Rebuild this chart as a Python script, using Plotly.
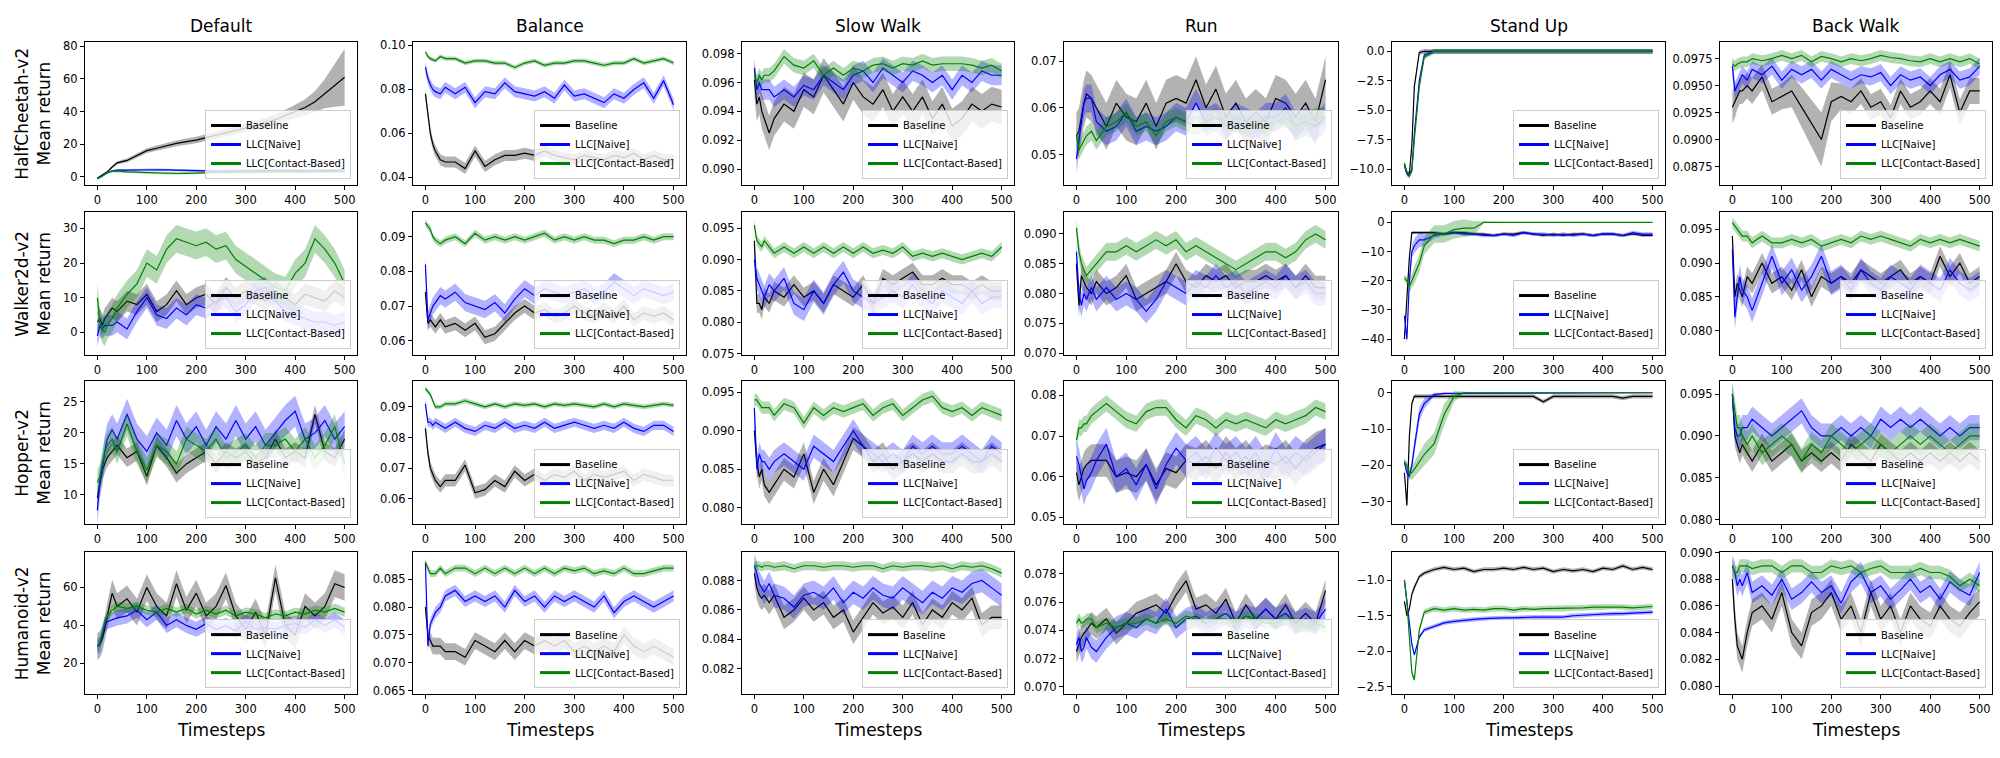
import plotly.graph_objects as go

# ---------------- data ----------------
X = [0, 5, 10, 15, 20, 30, 40, 60, 80, 100, 120, 140, 160, 180, 200, 220, 240, 260, 280, 300,
     320, 340, 360, 380, 400, 420, 440, 460, 480, 500]

COLUMN_TITLES = ["Default", "Balance", "Slow Walk", "Run", "Stand Up", "Back Walk"]
ROW_LABELS = ["HalfCheetah-v2", "Walker2d-v2", "Hopper-v2", "Humanoid-v2"]
SERIES_NAMES = ["Baseline", "LLC[Naive]", "LLC[Contact-Based]"]
X_TICKS = [0, 100, 200, 300, 400, 500]
X_LABEL = "Timesteps"
Y_LABEL = "Mean return"

# HalfCheetah-v2
HC_DEF_B = [-1, 0, 1, 2, 3, 6, 8.5, 10, 13, 16, 17.5, 19, 20.5, 21.5, 22.5, 24, 25.5, 27, 28.5, 30, 31.5, 33, 35, 37.5, 40, 42.5, 46, 51, 56, 61]
HC_DEF_B_SD = [0.5, 0.5, 0.5, 0.5, 0.6, 0.8, 1, 1.2, 1.4, 1.5, 1.6, 1.7, 1.8, 1.9, 2, 2.1, 2.2, 2.3, 2.4, 2.5, 2.7, 2.9, 3.2, 3.6, 4.2, 5, 6.5, 9, 13, 17.5]
HC_DEF_N = [-1, -0.5, 0.5, 1.5, 2.5, 3.5, 4, 4, 4.2, 4.5, 4.3, 4.2, 4, 3.8, 3.6, 3.6, 3.5, 3.6, 3.7, 3.6, 3.7, 3.8, 3.7, 3.8, 3.9, 3.8, 3.9, 4, 3.9, 4]
HC_DEF_N_SD = 0.7
HC_DEF_C = [-1, -0.5, 0.5, 1.5, 2.5, 3.5, 3.5, 3, 2.8, 2.5, 2.3, 2, 2, 2.1, 2.4, 2.5, 2.6, 2.7, 2.8, 2.8, 2.9, 3, 2.9, 3, 3, 3.1, 3, 3.1, 3, 3.1]
HC_DEF_C_SD = 0.7

HC_BAL_B = [0.078, 0.068, 0.060, 0.055, 0.052, 0.048, 0.047, 0.047, 0.044, 0.052, 0.045, 0.048, 0.050, 0.050, 0.051, 0.050, 0.052, 0.050, 0.049, 0.048, 0.050, 0.049, 0.048, 0.050, 0.049, 0.051, 0.048, 0.050, 0.048, 0.048]
HC_BAL_B_SD = 0.0025
HC_BAL_N = [0.090, 0.085, 0.082, 0.080, 0.079, 0.078, 0.081, 0.078, 0.081, 0.074, 0.079, 0.078, 0.083, 0.079, 0.078, 0.077, 0.079, 0.076, 0.082, 0.077, 0.078, 0.076, 0.074, 0.078, 0.076, 0.080, 0.083, 0.076, 0.084, 0.073]
HC_BAL_N_SD = 0.0025
HC_BAL_C = [0.097, 0.095, 0.094, 0.0935, 0.093, 0.095, 0.094, 0.094, 0.092, 0.093, 0.093, 0.092, 0.092, 0.090, 0.092, 0.093, 0.091, 0.092, 0.092, 0.093, 0.093, 0.092, 0.091, 0.092, 0.092, 0.094, 0.092, 0.093, 0.094, 0.092]
HC_BAL_C_SD = 0.001

HC_SLW_B = [0.0962, 0.0945, 0.0950, 0.0940, 0.0935, 0.0925, 0.0935, 0.0945, 0.0940, 0.0955, 0.0950, 0.0965, 0.0955, 0.0945, 0.0960, 0.0950, 0.0945, 0.0955, 0.0940, 0.0950, 0.0940, 0.0950, 0.0935, 0.0945, 0.0930, 0.0935, 0.0945, 0.0940, 0.0945, 0.0943]
HC_SLW_B_SD = 0.0012
HC_SLW_N = [0.0970, 0.0955, 0.0960, 0.0955, 0.0955, 0.0955, 0.0950, 0.0955, 0.0950, 0.0958, 0.0955, 0.0965, 0.0960, 0.0955, 0.0965, 0.0968, 0.0960, 0.0970, 0.0965, 0.0960, 0.0968, 0.0965, 0.0960, 0.0965, 0.0955, 0.0965, 0.0960, 0.0968, 0.0965, 0.0965]
HC_SLW_N_SD = 0.0007
HC_SLW_C = [0.0965, 0.0960, 0.0965, 0.0962, 0.0965, 0.0965, 0.0968, 0.0978, 0.0972, 0.0970, 0.0975, 0.0965, 0.0970, 0.0965, 0.0970, 0.0968, 0.0972, 0.0973, 0.0970, 0.0973, 0.0972, 0.0975, 0.0972, 0.0973, 0.0973, 0.0973, 0.0972, 0.0970, 0.0972, 0.0968]
HC_SLW_C_SD = 0.0005

HC_RUN_B = [0.054, 0.055, 0.058, 0.061, 0.063, 0.062, 0.060, 0.056, 0.061, 0.058, 0.057, 0.061, 0.056, 0.061, 0.062, 0.061, 0.066, 0.060, 0.064, 0.058, 0.061, 0.057, 0.059, 0.057, 0.062, 0.061, 0.058, 0.061, 0.057, 0.066]
HC_RUN_B_SD = 0.005
HC_RUN_N = [0.049, 0.053, 0.058, 0.061, 0.062, 0.062, 0.057, 0.055, 0.056, 0.059, 0.055, 0.056, 0.055, 0.056, 0.058, 0.057, 0.061, 0.057, 0.058, 0.056, 0.058, 0.057, 0.056, 0.058, 0.058, 0.060, 0.056, 0.057, 0.056, 0.058]
HC_RUN_N_SD = 0.003
HC_RUN_C = [0.054, 0.051, 0.052, 0.053, 0.054, 0.055, 0.053, 0.056, 0.057, 0.059, 0.056, 0.057, 0.054, 0.057, 0.058, 0.057, 0.056, 0.057, 0.058, 0.057, 0.057, 0.056, 0.057, 0.056, 0.057, 0.058, 0.056, 0.057, 0.058, 0.058]
HC_RUN_C_SD = 0.002

HC_STU_B = [-9.6, -10.3, -10.4, -8.0, -3.0, -0.1, 0.0, 0.0, 0.0, 0.0, 0.0, 0.0, 0.0, 0.0, 0.0, 0.0, 0.0, 0.0, 0.0, 0.0, 0.0, 0.0, 0.0, 0.0, 0.0, 0.0, 0.0, 0.0, 0.0, 0.0]
HC_STU_B_SD = 0.2
HC_STU_N = [-9.7, -10.4, -10.6, -10.0, -7.0, -2.5, -0.3, 0.0, 0.0, 0.0, 0.0, 0.0, 0.0, 0.0, 0.0, 0.0, 0.0, 0.0, 0.0, 0.0, 0.0, 0.0, 0.0, 0.0, 0.0, 0.0, 0.0, 0.0, 0.0, 0.0]
HC_STU_N_SD = 0.2
HC_STU_C = [-9.5, -10.3, -10.5, -10.2, -7.5, -3.0, -0.5, 0.0, 0.0, 0.0, 0.0, 0.0, 0.0, 0.0, 0.0, 0.0, 0.0, 0.0, 0.0, 0.0, 0.0, 0.0, 0.0, 0.0, 0.0, 0.0, 0.0, 0.0, 0.0, 0.0]
HC_STU_C_SD = 0.2

HC_BKW_B = [0.0930, 0.0935, 0.0940, 0.0945, 0.0945, 0.0950, 0.0945, 0.0958, 0.0935, 0.0940, 0.0945, 0.0930, 0.0915, 0.0900, 0.0935, 0.0940, 0.0935, 0.0945, 0.0930, 0.0935, 0.0920, 0.0945, 0.0930, 0.0935, 0.0945, 0.0935, 0.0960, 0.0925, 0.0945, 0.0945]
HC_BKW_B_SD = [0.0015, 0.0015, 0.0012, 0.0012, 0.0012, 0.0012, 0.0012, 0.0012, 0.0012, 0.0012, 0.0015, 0.0018, 0.0022, 0.0025, 0.0018, 0.0012, 0.0012, 0.0012, 0.0012, 0.0012, 0.0012, 0.0012, 0.0012, 0.0012, 0.0012, 0.0012, 0.0012, 0.0012, 0.0012, 0.0012]
HC_BKW_N = [0.0968, 0.0945, 0.0950, 0.0955, 0.0960, 0.0955, 0.0965, 0.0960, 0.0968, 0.0955, 0.0965, 0.0960, 0.0965, 0.0955, 0.0965, 0.0960, 0.0955, 0.0960, 0.0958, 0.0962, 0.0950, 0.0960, 0.0955, 0.0958, 0.0950, 0.0960, 0.0965, 0.0955, 0.0958, 0.0968]
HC_BKW_N_SD = 0.0008
HC_BKW_C = [0.0970, 0.0968, 0.0970, 0.0971, 0.0972, 0.0972, 0.0975, 0.0973, 0.0975, 0.0978, 0.0975, 0.0978, 0.0972, 0.0977, 0.0975, 0.0972, 0.0975, 0.0973, 0.0975, 0.0978, 0.0976, 0.0975, 0.0973, 0.0972, 0.0975, 0.0972, 0.0975, 0.0972, 0.0975, 0.0970]
HC_BKW_C_SD = 0.0005

# Walker2d-v2
WK_DEF_B = [3, 4, 2, 4, 5, 7, 6, 9, 8, 11, 6, 8, 12, 8, 10, 11, 8, 13, 10, 12, 11, 9, 12, 10, 8, 11, 10, 9, 12, 10]
WK_DEF_B_SD = 3
WK_DEF_N = [-1, 2, 1, 2, 2, 2, 3, 1, 6, 10, 5, 4, 7, 5, 8, 7, 9, 10, 6, 8, 12, 13, 9, 6, 5, 4, 3, 3, 2, 3]
WK_DEF_N_SD = 3
WK_DEF_C = [10, 3, 1, 0, 2, 4, 7, 11, 14, 20, 18, 24, 27, 26, 25, 26, 24, 25, 21, 19, 17, 15, 13, 12, 17, 20, 27, 24, 20, 14]
WK_DEF_C_SD = 4

WK_BAL_B = [0.074, 0.065, 0.066, 0.065, 0.064, 0.066, 0.064, 0.065, 0.063, 0.065, 0.061, 0.062, 0.065, 0.068, 0.070, 0.068, 0.069, 0.067, 0.068, 0.070, 0.068, 0.067, 0.069, 0.067, 0.070, 0.066, 0.068, 0.067, 0.068, 0.066]
WK_BAL_B_SD = 0.002
WK_BAL_N = [0.082, 0.066, 0.068, 0.070, 0.071, 0.073, 0.072, 0.074, 0.071, 0.070, 0.069, 0.071, 0.068, 0.072, 0.075, 0.073, 0.075, 0.074, 0.073, 0.074, 0.075, 0.073, 0.074, 0.077, 0.075, 0.073, 0.075, 0.074, 0.073, 0.074]
WK_BAL_N_SD = 0.0025
WK_BAL_C = [0.094, 0.093, 0.092, 0.090, 0.089, 0.088, 0.089, 0.090, 0.088, 0.091, 0.089, 0.090, 0.089, 0.090, 0.089, 0.090, 0.091, 0.089, 0.090, 0.089, 0.090, 0.089, 0.089, 0.088, 0.089, 0.089, 0.090, 0.089, 0.090, 0.090]
WK_BAL_C_SD = 0.001

WK_SLW_B = [0.093, 0.083, 0.083, 0.082, 0.084, 0.083, 0.085, 0.084, 0.086, 0.084, 0.085, 0.083, 0.086, 0.085, 0.084, 0.086, 0.083, 0.087, 0.086, 0.087, 0.088, 0.086, 0.086, 0.087, 0.086, 0.086, 0.085, 0.086, 0.085, 0.085]
WK_SLW_B_SD = 0.0015
WK_SLW_N = [0.090, 0.087, 0.086, 0.085, 0.084, 0.086, 0.085, 0.087, 0.083, 0.082, 0.085, 0.083, 0.086, 0.088, 0.085, 0.084, 0.083, 0.084, 0.085, 0.084, 0.086, 0.084, 0.083, 0.085, 0.084, 0.083, 0.085, 0.083, 0.084, 0.084]
WK_SLW_N_SD = 0.0018
WK_SLW_C = [0.0955, 0.093, 0.0925, 0.092, 0.093, 0.092, 0.091, 0.092, 0.091, 0.092, 0.091, 0.092, 0.091, 0.092, 0.091, 0.092, 0.091, 0.0915, 0.091, 0.092, 0.0905, 0.091, 0.0905, 0.091, 0.0905, 0.090, 0.0905, 0.091, 0.0905, 0.092]
WK_SLW_C_SD = 0.0008

WK_RUN_B = [0.085, 0.078, 0.083, 0.082, 0.081, 0.080, 0.082, 0.080, 0.081, 0.083, 0.079, 0.080, 0.081, 0.082, 0.085, 0.082, 0.081, 0.083, 0.082, 0.083, 0.081, 0.082, 0.082, 0.083, 0.082, 0.083, 0.081, 0.083, 0.081, 0.081]
WK_RUN_B_SD = 0.002
WK_RUN_N = [0.087, 0.080, 0.078, 0.080, 0.079, 0.081, 0.079, 0.081, 0.079, 0.080, 0.079, 0.077, 0.079, 0.082, 0.081, 0.080, 0.082, 0.081, 0.083, 0.081, 0.082, 0.080, 0.081, 0.082, 0.081, 0.083, 0.081, 0.082, 0.080, 0.080]
WK_RUN_N_SD = 0.002
WK_RUN_C = [0.091, 0.087, 0.085, 0.084, 0.083, 0.084, 0.085, 0.087, 0.087, 0.088, 0.087, 0.088, 0.089, 0.088, 0.089, 0.087, 0.088, 0.087, 0.086, 0.085, 0.084, 0.085, 0.086, 0.087, 0.087, 0.086, 0.087, 0.089, 0.090, 0.089]
WK_RUN_C_SD = 0.0015

WK_STU_B = [-40, -25, -12, -3.5, -3.5, -3.5, -3.5, -3.5, -4, -3.5, -3.5, -4, -4, -4.5, -4, -4, -3.5, -4, -4.5, -4, -4.5, -4, -4, -4.5, -4, -4, -4.5, -4, -4.5, -4.5]
WK_STU_B_SD = 0.5
WK_STU_N = [-32, -40, -20, -10, -8, -6, -6, -4.5, -4, -3.5, -4, -4, -4.5, -4.5, -4, -4.5, -3.5, -4, -4, -4.5, -4, -4.5, -4, -4.5, -4, -4, -4.5, -3.5, -4, -4]
WK_STU_N_SD = [1.0, 1.5, 2.0, 2.0, 2.5, 2.5, 2.0, 1.0, 0.6, 0.6, 0.6, 0.6, 0.6, 0.6, 0.6, 0.6, 0.6, 0.6, 0.6, 0.6, 0.6, 0.6, 0.6, 0.6, 0.6, 0.6, 0.6, 0.6, 0.6, 0.6]
WK_STU_C = [-19, -20, -22, -20, -18, -14, -8, -4, -4, -2.5, -2, -2, 0, 0, 0, 0, 0, 0, 0, 0, 0, 0, 0, 0, 0, 0, 0, 0, 0, 0]
WK_STU_C_SD = [1.0, 1.5, 2.0, 2.5, 3.0, 3.0, 3.0, 3.0, 3.0, 3.0, 3.0, 2.5, 0.3, 0.1, 0.1, 0.1, 0.1, 0.1, 0.1, 0.1, 0.1, 0.1, 0.1, 0.1, 0.1, 0.1, 0.1, 0.1, 0.1, 0.1]

WK_BKW_B = [0.094, 0.085, 0.087, 0.086, 0.085, 0.088, 0.087, 0.090, 0.087, 0.088, 0.086, 0.089, 0.085, 0.088, 0.087, 0.088, 0.087, 0.089, 0.088, 0.087, 0.088, 0.089, 0.087, 0.088, 0.087, 0.091, 0.088, 0.090, 0.087, 0.088]
WK_BKW_B_SD = 0.0015
WK_BKW_N = [0.092, 0.082, 0.085, 0.088, 0.086, 0.085, 0.083, 0.087, 0.091, 0.087, 0.089, 0.086, 0.088, 0.091, 0.087, 0.088, 0.086, 0.089, 0.087, 0.086, 0.088, 0.087, 0.086, 0.088, 0.087, 0.086, 0.089, 0.087, 0.086, 0.087]
WK_BKW_N_SD = 0.0018
WK_BKW_C = [0.096, 0.0955, 0.095, 0.0945, 0.094, 0.094, 0.093, 0.094, 0.093, 0.093, 0.0935, 0.093, 0.0935, 0.0925, 0.093, 0.0935, 0.093, 0.094, 0.0935, 0.094, 0.0935, 0.093, 0.0925, 0.0935, 0.093, 0.0935, 0.093, 0.0935, 0.093, 0.0925]
WK_BKW_C_SD = 0.0008

# Hopper-v2
HP_DEF_B = [9.5, 12, 14, 15, 16, 17, 18, 16, 17, 13, 18, 16, 13.5, 15, 16, 17, 15, 17, 16, 17, 15, 16, 19, 16, 17, 16, 23, 17, 16, 19]
HP_DEF_B_SD = 1.5
HP_DEF_N = [7.5, 12, 14, 17, 19, 20.5, 19, 23, 19, 17, 20, 18, 22, 19, 21, 18, 21, 19, 22, 19, 21, 18, 20, 22, 23.5, 19, 20, 22, 19, 21]
HP_DEF_N_SD = 2.5
HP_DEF_C = [12, 13, 15, 17, 18, 19, 17, 21.5, 17, 14, 18, 17, 15, 19, 18, 17, 19, 16, 17, 18, 16, 18, 18, 19, 17, 19, 16, 18, 21, 15]
HP_DEF_C_SD = 2

HP_BAL_B = [0.083, 0.075, 0.070, 0.068, 0.066, 0.064, 0.066, 0.066, 0.071, 0.062, 0.063, 0.066, 0.064, 0.069, 0.066, 0.068, 0.066, 0.068, 0.067, 0.069, 0.066, 0.068, 0.067, 0.068, 0.069, 0.066, 0.068, 0.067, 0.066, 0.066]
HP_BAL_B_SD = 0.002
HP_BAL_N = [0.091, 0.085, 0.085, 0.084, 0.085, 0.084, 0.083, 0.085, 0.083, 0.082, 0.084, 0.083, 0.085, 0.083, 0.084, 0.083, 0.085, 0.083, 0.084, 0.085, 0.084, 0.083, 0.084, 0.083, 0.085, 0.083, 0.082, 0.084, 0.084, 0.082]
HP_BAL_N_SD = 0.0015
HP_BAL_C = [0.096, 0.095, 0.094, 0.092, 0.090, 0.090, 0.091, 0.091, 0.092, 0.091, 0.090, 0.091, 0.090, 0.091, 0.0905, 0.091, 0.090, 0.091, 0.0905, 0.091, 0.0905, 0.090, 0.091, 0.090, 0.091, 0.0905, 0.090, 0.0905, 0.091, 0.0905]
HP_BAL_C_SD = 0.0008

HP_SLW_B = [0.090, 0.086, 0.084, 0.085, 0.083, 0.082, 0.083, 0.085, 0.084, 0.087, 0.082, 0.085, 0.083, 0.086, 0.089, 0.088, 0.086, 0.087, 0.085, 0.086, 0.087, 0.086, 0.087, 0.086, 0.086, 0.087, 0.086, 0.086, 0.087, 0.086]
HP_SLW_B_SD = 0.0015
HP_SLW_N = [0.093, 0.085, 0.087, 0.086, 0.086, 0.085, 0.086, 0.087, 0.086, 0.085, 0.088, 0.087, 0.086, 0.088, 0.090, 0.088, 0.087, 0.086, 0.087, 0.086, 0.088, 0.087, 0.088, 0.087, 0.087, 0.088, 0.087, 0.086, 0.088, 0.087]
HP_SLW_N_SD = 0.0015
HP_SLW_C = [0.094, 0.094, 0.0935, 0.093, 0.093, 0.093, 0.092, 0.0935, 0.093, 0.091, 0.093, 0.092, 0.093, 0.0925, 0.093, 0.0935, 0.092, 0.093, 0.0935, 0.092, 0.093, 0.094, 0.0945, 0.093, 0.0925, 0.093, 0.092, 0.093, 0.0925, 0.092]
HP_SLW_C_SD = 0.0008

HP_RUN_B = [0.061, 0.058, 0.060, 0.062, 0.063, 0.064, 0.064, 0.064, 0.060, 0.061, 0.060, 0.063, 0.058, 0.062, 0.061, 0.064, 0.063, 0.065, 0.062, 0.066, 0.063, 0.065, 0.062, 0.064, 0.063, 0.065, 0.062, 0.065, 0.067, 0.068]
HP_RUN_B_SD = 0.004
HP_RUN_N = [0.065, 0.063, 0.060, 0.057, 0.059, 0.061, 0.064, 0.068, 0.060, 0.062, 0.058, 0.063, 0.057, 0.063, 0.067, 0.064, 0.066, 0.063, 0.067, 0.064, 0.066, 0.063, 0.066, 0.062, 0.067, 0.063, 0.066, 0.064, 0.066, 0.068]
HP_RUN_N_SD = 0.004
HP_RUN_C = [0.069, 0.072, 0.072, 0.073, 0.073, 0.075, 0.076, 0.078, 0.076, 0.074, 0.073, 0.076, 0.077, 0.077, 0.074, 0.072, 0.075, 0.074, 0.072, 0.074, 0.073, 0.074, 0.073, 0.072, 0.074, 0.073, 0.074, 0.075, 0.077, 0.076]
HP_RUN_C_SD = 0.002

HP_STU_B = [-22, -31, -12, -3, -1, -1, -1, -1, -1, -1, -1, -1, -1, -1, -1, -1, -1, -1, -2.5, -1, -1, -1, -1, -1, -1, -1, -1.5, -1, -1, -1]
HP_STU_B_SD = 0.6
HP_STU_N = [-19, -22, -23, -20, -15, -6, -3, -0.5, -0.2, -0.2, 0, 0, 0, 0, 0, 0, 0, 0, 0, 0, 0, 0, 0, 0, 0, 0, 0, 0, 0, 0]
HP_STU_N_SD = [1, 1, 1, 1.5, 2, 2, 1.5, 0.5, 0.2, 0.1, 0.1, 0.1, 0.1, 0.1, 0.1, 0.1, 0.1, 0.1, 0.1, 0.1, 0.1, 0.1, 0.1, 0.1, 0.1, 0.1, 0.1, 0.1, 0.1, 0.1]
HP_STU_C = [-19, -20, -22, -22, -21, -19, -17, -14, -6, -1, 0, 0, 0, 0, 0, 0, 0, 0, 0, 0, 0, 0, 0, 0, 0, 0, 0, 0, 0, 0]
HP_STU_C_SD = [1, 1, 1.5, 2, 2, 2.5, 3, 3, 3, 1.5, 0.3, 0.1, 0.1, 0.1, 0.1, 0.1, 0.1, 0.1, 0.1, 0.1, 0.1, 0.1, 0.1, 0.1, 0.1, 0.1, 0.1, 0.1, 0.1, 0.1]

HP_BKW_B = [0.095, 0.090, 0.089, 0.088, 0.089, 0.088, 0.087, 0.089, 0.087, 0.088, 0.089, 0.087, 0.088, 0.087, 0.088, 0.087, 0.089, 0.088, 0.087, 0.089, 0.088, 0.087, 0.088, 0.087, 0.088, 0.087, 0.088, 0.087, 0.088, 0.087]
HP_BKW_B_SD = 0.0013
HP_BKW_N = [0.095, 0.091, 0.090, 0.090, 0.091, 0.091, 0.092, 0.091, 0.090, 0.091, 0.092, 0.093, 0.091, 0.090, 0.090, 0.091, 0.090, 0.091, 0.090, 0.092, 0.091, 0.092, 0.091, 0.092, 0.091, 0.090, 0.091, 0.090, 0.091, 0.091]
HP_BKW_N_SD = 0.0015
HP_BKW_C = [0.095, 0.093, 0.091, 0.091, 0.090, 0.089, 0.090, 0.088, 0.089, 0.090, 0.089, 0.087, 0.089, 0.088, 0.090, 0.089, 0.088, 0.089, 0.090, 0.089, 0.088, 0.089, 0.090, 0.089, 0.090, 0.089, 0.088, 0.089, 0.090, 0.090]
HP_BKW_C_SD = 0.0015

# Humanoid-v2
HU_DEF_B = [29, 30, 33, 38, 45, 57, 50, 54, 47, 60, 50, 45, 62, 48, 57, 45, 50, 61, 45, 38, 47, 35, 65, 40, 35, 50, 45, 50, 62, 60]
HU_DEF_B_SD = 7
HU_DEF_N = [29, 30, 35, 40, 42, 43, 44, 45, 48, 43, 47, 40, 43, 40, 38, 41, 38, 40, 37, 42, 38, 39, 38, 40, 41, 39, 43, 40, 43, 39]
HU_DEF_N_SD = 4
HU_DEF_C = [29, 31, 36, 42, 45, 48, 50, 49, 50, 48, 47, 49, 47, 49, 46, 48, 46, 48, 45, 47, 46, 44, 46, 45, 47, 46, 48, 47, 49, 47]
HU_DEF_C_SD = 2.5

HU_BAL_B = [0.080, 0.075, 0.074, 0.073, 0.073, 0.073, 0.072, 0.072, 0.071, 0.074, 0.073, 0.072, 0.074, 0.072, 0.074, 0.073, 0.074, 0.073, 0.074, 0.072, 0.073, 0.072, 0.073, 0.072, 0.075, 0.073, 0.072, 0.073, 0.072, 0.071]
HU_BAL_B_SD = 0.0015
HU_BAL_N = [0.088, 0.073, 0.077, 0.078, 0.079, 0.080, 0.082, 0.083, 0.081, 0.082, 0.081, 0.082, 0.080, 0.083, 0.081, 0.082, 0.080, 0.082, 0.081, 0.082, 0.081, 0.080, 0.082, 0.079, 0.081, 0.082, 0.081, 0.080, 0.081, 0.082]
HU_BAL_N_SD = 0.001
HU_BAL_C = [0.088, 0.087, 0.086, 0.086, 0.086, 0.087, 0.086, 0.087, 0.087, 0.086, 0.087, 0.086, 0.087, 0.086, 0.087, 0.086, 0.087, 0.086, 0.087, 0.0865, 0.087, 0.086, 0.0865, 0.086, 0.087, 0.086, 0.086, 0.0865, 0.087, 0.087]
HU_BAL_C_SD = 0.0006

HU_SLW_B = [0.0885, 0.0875, 0.0870, 0.0868, 0.0870, 0.0865, 0.0870, 0.0855, 0.0860, 0.0868, 0.0860, 0.0865, 0.0855, 0.0860, 0.0845, 0.0855, 0.0865, 0.0858, 0.0862, 0.0855, 0.0865, 0.0850, 0.0860, 0.0855, 0.0865, 0.0860, 0.0868, 0.0850, 0.0855, 0.0855]
HU_SLW_B_SD = 0.0008
HU_SLW_N = [0.0890, 0.0885, 0.0878, 0.0875, 0.0872, 0.0878, 0.0870, 0.0868, 0.0862, 0.0870, 0.0872, 0.0868, 0.0875, 0.0865, 0.0872, 0.0868, 0.0875, 0.0870, 0.0868, 0.0875, 0.0870, 0.0865, 0.0872, 0.0868, 0.0875, 0.0872, 0.0878, 0.0880, 0.0875, 0.0870]
HU_SLW_N_SD = 0.0008
HU_SLW_C = [0.0890, 0.0890, 0.0890, 0.0889, 0.0890, 0.0890, 0.0889, 0.0890, 0.0888, 0.0890, 0.0890, 0.0889, 0.0890, 0.0890, 0.0889, 0.0890, 0.0890, 0.0888, 0.0890, 0.0889, 0.0890, 0.0890, 0.0889, 0.0890, 0.0888, 0.0890, 0.0889, 0.0890, 0.0888, 0.0885]
HU_SLW_C_SD = 0.0003

HU_RUN_B = [0.0725, 0.0730, 0.0735, 0.0738, 0.0740, 0.0745, 0.0742, 0.0748, 0.0738, 0.0745, 0.0752, 0.0755, 0.0758, 0.0752, 0.0765, 0.0775, 0.0755, 0.0758, 0.0752, 0.0762, 0.0745, 0.0758, 0.0748, 0.0755, 0.0748, 0.0758, 0.0745, 0.0752, 0.0745, 0.0768]
HU_RUN_B_SD = 0.0008
HU_RUN_N = [0.0730, 0.0735, 0.0725, 0.0728, 0.0735, 0.0728, 0.0725, 0.0735, 0.0742, 0.0745, 0.0742, 0.0748, 0.0745, 0.0755, 0.0742, 0.0748, 0.0750, 0.0745, 0.0748, 0.0752, 0.0745, 0.0750, 0.0748, 0.0755, 0.0748, 0.0752, 0.0745, 0.0748, 0.0745, 0.0755]
HU_RUN_N_SD = 0.0008
HU_RUN_C = [0.0745, 0.0748, 0.0745, 0.0746, 0.0748, 0.0748, 0.0742, 0.0745, 0.0742, 0.0745, 0.0745, 0.0748, 0.0745, 0.0748, 0.0745, 0.0750, 0.0748, 0.0745, 0.0748, 0.0748, 0.0745, 0.0750, 0.0748, 0.0745, 0.0745, 0.0748, 0.0745, 0.0742, 0.0745, 0.0742]
HU_RUN_C_SD = 0.0004

HU_STU_B = [-1.3, -1.5, -1.4, -1.2, -1.1, -0.95, -0.9, -0.85, -0.82, -0.85, -0.83, -0.88, -0.85, -0.85, -0.83, -0.85, -0.82, -0.85, -0.83, -0.88, -0.85, -0.87, -0.85, -0.88, -0.83, -0.85, -0.80, -0.85, -0.82, -0.85]
HU_STU_B_SD = 0.03
HU_STU_N = [-1.0, -1.3, -1.6, -1.9, -2.05, -1.8, -1.7, -1.65, -1.6, -1.58, -1.56, -1.55, -1.54, -1.53, -1.53, -1.53, -1.52, -1.52, -1.52, -1.52, -1.52, -1.50, -1.49, -1.48, -1.48, -1.47, -1.47, -1.46, -1.45, -1.45]
HU_STU_N_SD = 0.03
HU_STU_C = [-1.0, -1.3, -1.8, -2.3, -2.4, -1.7, -1.45, -1.40, -1.42, -1.40, -1.42, -1.41, -1.42, -1.40, -1.40, -1.42, -1.40, -1.41, -1.40, -1.40, -1.40, -1.39, -1.39, -1.38, -1.38, -1.37, -1.38, -1.39, -1.38, -1.37]
HU_STU_C_SD = 0.04

HU_BKW_B = [0.0880, 0.0850, 0.0830, 0.0825, 0.0820, 0.0840, 0.0855, 0.0860, 0.0850, 0.0870, 0.0840, 0.0830, 0.0855, 0.0860, 0.0870, 0.0850, 0.0860, 0.0840, 0.0870, 0.0850, 0.0860, 0.0840, 0.0860, 0.0850, 0.0845, 0.0860, 0.0850, 0.0845, 0.0855, 0.0863]
HU_BKW_B_SD = 0.001
HU_BKW_N = [0.0890, 0.0885, 0.0875, 0.0880, 0.0875, 0.0885, 0.0870, 0.0875, 0.0868, 0.0880, 0.0865, 0.0870, 0.0878, 0.0870, 0.0875, 0.0862, 0.0878, 0.0885, 0.0870, 0.0875, 0.0865, 0.0872, 0.0880, 0.0870, 0.0875, 0.0865, 0.0878, 0.0872, 0.0868, 0.0885]
HU_BKW_N_SD = 0.0008
HU_BKW_C = [0.0890, 0.0885, 0.0885, 0.0890, 0.0890, 0.0890, 0.0888, 0.0890, 0.0890, 0.0885, 0.0890, 0.0890, 0.0885, 0.0885, 0.0890, 0.0888, 0.0890, 0.0885, 0.0888, 0.0890, 0.0885, 0.0885, 0.0885, 0.0888, 0.0885, 0.0885, 0.0882, 0.0875, 0.0880, 0.0875]
HU_BKW_C_SD = 0.0005

# y-axis tick values / labels per panel (row-major)
Y_TICKS = [
    [0, 20, 40, 60, 80], [0.04, 0.06, 0.08, 0.10], [0.090, 0.092, 0.094, 0.096, 0.098],
    [0.05, 0.06, 0.07], [-10, -7.5, -5, -2.5, 0], [0.0875, 0.09, 0.0925, 0.095, 0.0975],
    [0, 10, 20, 30], [0.06, 0.07, 0.08, 0.09], [0.075, 0.080, 0.085, 0.090, 0.095],
    [0.070, 0.075, 0.080, 0.085, 0.090], [-40, -30, -20, -10, 0], [0.080, 0.085, 0.090, 0.095],
    [10, 15, 20, 25], [0.06, 0.07, 0.08, 0.09], [0.080, 0.085, 0.090, 0.095],
    [0.05, 0.06, 0.07, 0.08], [-30, -20, -10, 0], [0.080, 0.085, 0.090, 0.095],
    [20, 40, 60], [0.065, 0.070, 0.075, 0.080, 0.085], [0.082, 0.084, 0.086, 0.088],
    [0.070, 0.072, 0.074, 0.076, 0.078], [-2.5, -2.0, -1.5, -1.0], [0.080, 0.082, 0.084, 0.086, 0.088, 0.090],
]
Y_TICK_TEXT = [
    ["0", "20", "40", "60", "80"], ["0.04", "0.06", "0.08", "0.10"], ["0.090", "0.092", "0.094", "0.096", "0.098"],
    ["0.05", "0.06", "0.07"], ["\u221210.0", "\u22127.5", "\u22125.0", "\u22122.5", "0.0"], ["0.0875", "0.0900", "0.0925", "0.0950", "0.0975"],
    ["0", "10", "20", "30"], ["0.06", "0.07", "0.08", "0.09"], ["0.075", "0.080", "0.085", "0.090", "0.095"],
    ["0.070", "0.075", "0.080", "0.085", "0.090"], ["\u221240", "\u221230", "\u221220", "\u221210", "0"], ["0.080", "0.085", "0.090", "0.095"],
    ["10", "15", "20", "25"], ["0.06", "0.07", "0.08", "0.09"], ["0.080", "0.085", "0.090", "0.095"],
    ["0.05", "0.06", "0.07", "0.08"], ["\u221230", "\u221220", "\u221210", "0"], ["0.080", "0.085", "0.090", "0.095"],
    ["20", "40", "60"], ["0.065", "0.070", "0.075", "0.080", "0.085"], ["0.082", "0.084", "0.086", "0.088"],
    ["0.070", "0.072", "0.074", "0.076", "0.078"], ["\u22122.5", "\u22122.0", "\u22121.5", "\u22121.0"], ["0.080", "0.082", "0.084", "0.086", "0.088", "0.090"],
]
Y_RANGES = [
    [-5, 82.4], [0.0366, 0.1014], [0.0889, 0.09878], [0.0435, 0.074], [-11.34, 0.76], [0.0858, 0.0990],
    [-6.5, 34.6], [0.0559, 0.097], [0.0748, 0.0975], [0.0697, 0.0936], [-45.4, 3.4], [0.0764, 0.0975],
    [5.3, 28.3], [0.0518, 0.0983], [0.0779, 0.0964], [0.0484, 0.0834], [-36.1, 3.1], [0.0795, 0.0965],
    [3.9, 78.4], [0.0644, 0.0898], [0.0803, 0.0899], [0.0695, 0.0795], [-2.60, -0.611], [0.0794, 0.0900],
]

PANELS = [
    [(HC_DEF_B, HC_DEF_B_SD), (HC_DEF_N, HC_DEF_N_SD), (HC_DEF_C, HC_DEF_C_SD)],
    [(HC_BAL_B, HC_BAL_B_SD), (HC_BAL_N, HC_BAL_N_SD), (HC_BAL_C, HC_BAL_C_SD)],
    [(HC_SLW_B, HC_SLW_B_SD), (HC_SLW_N, HC_SLW_N_SD), (HC_SLW_C, HC_SLW_C_SD)],
    [(HC_RUN_B, HC_RUN_B_SD), (HC_RUN_N, HC_RUN_N_SD), (HC_RUN_C, HC_RUN_C_SD)],
    [(HC_STU_B, HC_STU_B_SD), (HC_STU_N, HC_STU_N_SD), (HC_STU_C, HC_STU_C_SD)],
    [(HC_BKW_B, HC_BKW_B_SD), (HC_BKW_N, HC_BKW_N_SD), (HC_BKW_C, HC_BKW_C_SD)],
    [(WK_DEF_B, WK_DEF_B_SD), (WK_DEF_N, WK_DEF_N_SD), (WK_DEF_C, WK_DEF_C_SD)],
    [(WK_BAL_B, WK_BAL_B_SD), (WK_BAL_N, WK_BAL_N_SD), (WK_BAL_C, WK_BAL_C_SD)],
    [(WK_SLW_B, WK_SLW_B_SD), (WK_SLW_N, WK_SLW_N_SD), (WK_SLW_C, WK_SLW_C_SD)],
    [(WK_RUN_B, WK_RUN_B_SD), (WK_RUN_N, WK_RUN_N_SD), (WK_RUN_C, WK_RUN_C_SD)],
    [(WK_STU_B, WK_STU_B_SD), (WK_STU_N, WK_STU_N_SD), (WK_STU_C, WK_STU_C_SD)],
    [(WK_BKW_B, WK_BKW_B_SD), (WK_BKW_N, WK_BKW_N_SD), (WK_BKW_C, WK_BKW_C_SD)],
    [(HP_DEF_B, HP_DEF_B_SD), (HP_DEF_N, HP_DEF_N_SD), (HP_DEF_C, HP_DEF_C_SD)],
    [(HP_BAL_B, HP_BAL_B_SD), (HP_BAL_N, HP_BAL_N_SD), (HP_BAL_C, HP_BAL_C_SD)],
    [(HP_SLW_B, HP_SLW_B_SD), (HP_SLW_N, HP_SLW_N_SD), (HP_SLW_C, HP_SLW_C_SD)],
    [(HP_RUN_B, HP_RUN_B_SD), (HP_RUN_N, HP_RUN_N_SD), (HP_RUN_C, HP_RUN_C_SD)],
    [(HP_STU_B, HP_STU_B_SD), (HP_STU_N, HP_STU_N_SD), (HP_STU_C, HP_STU_C_SD)],
    [(HP_BKW_B, HP_BKW_B_SD), (HP_BKW_N, HP_BKW_N_SD), (HP_BKW_C, HP_BKW_C_SD)],
    [(HU_DEF_B, HU_DEF_B_SD), (HU_DEF_N, HU_DEF_N_SD), (HU_DEF_C, HU_DEF_C_SD)],
    [(HU_BAL_B, HU_BAL_B_SD), (HU_BAL_N, HU_BAL_N_SD), (HU_BAL_C, HU_BAL_C_SD)],
    [(HU_SLW_B, HU_SLW_B_SD), (HU_SLW_N, HU_SLW_N_SD), (HU_SLW_C, HU_SLW_C_SD)],
    [(HU_RUN_B, HU_RUN_B_SD), (HU_RUN_N, HU_RUN_N_SD), (HU_RUN_C, HU_RUN_C_SD)],
    [(HU_STU_B, HU_STU_B_SD), (HU_STU_N, HU_STU_N_SD), (HU_STU_C, HU_STU_C_SD)],
    [(HU_BKW_B, HU_BKW_B_SD), (HU_BKW_N, HU_BKW_N_SD), (HU_BKW_C, HU_BKW_C_SD)],
]

# ---------------- style / layout ----------------
W, H = 2000, 758
LINE_COLORS = ["#000000", "#0000ff", "#008000"]
FILL_COLORS = ["rgba(0,0,0,0.3)", "rgba(0,0,255,0.3)", "rgba(0,128,0,0.3)"]
FONT = "DejaVu Sans"
COL_PX = [(85, 357), (413, 686), (742, 1014), (1064, 1338), (1392, 1665), (1720, 1992)]
ROW_PX = [(36, 181), (209, 354), (381, 526), (555, 699)]

fig = go.Figure()
layout = dict(
    width=W, height=H, autosize=False,
    margin=dict(l=0, r=0, t=0, b=0, pad=0),
    paper_bgcolor="white", plot_bgcolor="white",
    font=dict(family=FONT, color="black"),
    showlegend=True,
)
annotations = []

for r in range(4):
    for c in range(6):
        i = r * 6 + c
        n = i + 1
        xa = "x" if n == 1 else f"x{n}"
        ya = "y" if n == 1 else f"y{n}"
        lg = "legend" if n == 1 else f"legend{n}"
        x0, x1 = COL_PX[c]
        t0, t1 = ROW_PX[r]
        dom_x = [x0 / W, x1 / W]
        dom_y = [1 - t1 / H, 1 - t0 / H]

        for s, (mean, sd) in enumerate(PANELS[i]):
            sds = [sd] * len(mean) if isinstance(sd, (int, float)) else sd
            up = [m + d for m, d in zip(mean, sds)]
            lo = [m - d for m, d in zip(mean, sds)]
            fig.add_trace(go.Scatter(
                x=X + X[::-1], y=up + lo[::-1], mode="lines", fill="toself",
                fillcolor=FILL_COLORS[s], line=dict(width=0), hoverinfo="skip",
                showlegend=False, xaxis=xa, yaxis=ya))
            fig.add_trace(go.Scatter(
                x=X, y=mean, mode="lines", line=dict(color=LINE_COLORS[s], width=1.2),
                showlegend=False, xaxis=xa, yaxis=ya, name=SERIES_NAMES[s]))
        for s in range(3):
            fig.add_trace(go.Scatter(
                x=[None], y=[None], mode="lines", line=dict(color=LINE_COLORS[s], width=3),
                name=SERIES_NAMES[s], legend=lg, xaxis=xa, yaxis=ya, showlegend=True))

        axis_common = dict(
            showline=True, mirror=True, linecolor="black", linewidth=1,
            ticks="outside", ticklen=4, tickwidth=1, tickcolor="black",
            showgrid=False, zeroline=False, tickfont=dict(family=FONT, size=11.5, color="black"),
        )
        layout["xaxis" if n == 1 else f"xaxis{n}"] = dict(
            domain=dom_x, anchor=ya, range=[-25, 525], tickvals=X_TICKS,
            ticktext=[str(v) for v in X_TICKS], **axis_common)
        layout["yaxis" if n == 1 else f"yaxis{n}"] = dict(
            domain=dom_y, anchor=xa, range=Y_RANGES[i], tickvals=Y_TICKS[i],
            ticktext=Y_TICK_TEXT[i], **axis_common)
        layout[lg] = dict(
            x=(x1 - 6) / W, y=1 - (t1 - 6) / H, xanchor="right", yanchor="bottom",
            bgcolor="rgba(255,255,255,0.8)", bordercolor="#cccccc", borderwidth=1,
            font=dict(family=FONT, size=10, color="black"), tracegroupgap=0,
            itemwidth=30)

        if r == 0:
            annotations.append(dict(
                text=COLUMN_TITLES[c], x=(x0 + x1) / 2 / W, y=1 - 19 / H, xref="paper", yref="paper",
                xanchor="center", yanchor="middle", showarrow=False,
                font=dict(family=FONT, size=17, color="black")))
        if r == 3:
            annotations.append(dict(
                text=X_LABEL, x=(x0 + x1) / 2 / W, y=1 - 736 / H, xref="paper", yref="paper",
                xanchor="center", yanchor="middle", showarrow=False,
                font=dict(family=FONT, size=17, color="black")))
        if c == 0:
            annotations.append(dict(
                text=ROW_LABELS[r] + "<br>" + Y_LABEL, x=33 / W, y=1 - (t0 + t1) / 2 / H,
                xref="paper", yref="paper", xanchor="center", yanchor="middle",
                showarrow=False, textangle=-90,
                font=dict(family=FONT, size=17, color="black")))

layout["annotations"] = annotations
fig.update_layout(**layout)

fig.write_html("out.html", config={"displayModeBar": False},
               post_script="document.body.style.margin='0';document.body.style.overflow='hidden';")
